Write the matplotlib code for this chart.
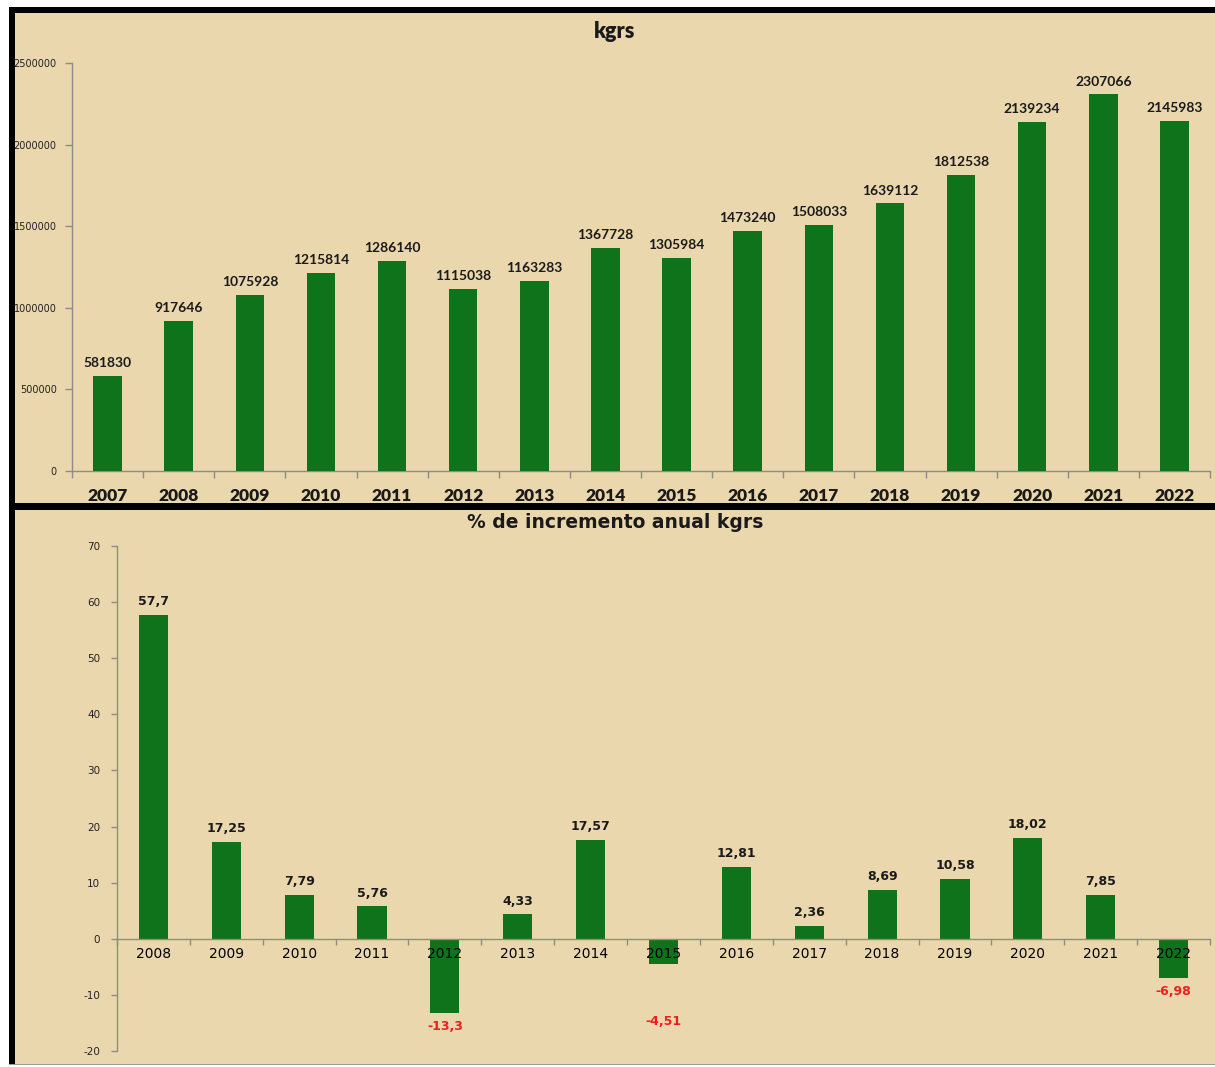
import matplotlib
matplotlib.use("Agg")
import matplotlib.pyplot as plt
from matplotlib.patches import Rectangle
import numpy as np

years_kg = ["2007", "2008", "2009", "2010", "2011", "2012", "2013", "2014",
            "2015", "2016", "2017", "2018", "2019", "2020", "2021", "2022"]
kgrs = [581830, 917646, 1075928, 1215814, 1286140, 1115038, 1163283, 1367728,
        1305984, 1473240, 1508033, 1639112, 1812538, 2139234, 2307066, 2145983]

years_pct = ["2008", "2009", "2010", "2011", "2012", "2013", "2014", "2015",
             "2016", "2017", "2018", "2019", "2020", "2021", "2022"]
pct = [57.7, 17.25, 7.79, 5.76, -13.3, 4.33, 17.57, -4.51, 12.81, 2.36,
       8.69, 10.58, 18.02, 7.85, -6.98]
pct_labels = ["57,7", "17,25", "7,79", "5,76", "-13,3", "4,33", "17,57", "-4,51",
              "12,81", "2,36", "8,69", "10,58", "18,02", "7,85", "-6,98"]

kg_ticks = [0, 500000, 1000000, 1500000, 2000000, 2500000]
pct_ticks = [-20, -10, 0, 10, 20, 30, 40, 50, 60, 70]

BG = "#EAD7AD"
GREEN = "#0E731A"
AXC = "#8c8c8c"
RED = "#E8211E"

W, H = 1215, 1067
fig = plt.figure(figsize=(W / 100, H / 100), dpi=100)
fig.patch.set_facecolor("white")

def fx(x):
    return x / W

def fy(y):
    return 1 - y / H

# tan background
fig.patches.append(Rectangle((fx(9), fy(1064)), fx(W - 9), (1064 - 7) / H,
                             transform=fig.transFigure, facecolor=BG,
                             edgecolor="none", zorder=-10))
# gray bottom line
fig.patches.append(Rectangle((fx(9), fy(1065)), fx(W - 9), 1.5 / H,
                             transform=fig.transFigure, facecolor="#9a9a9a",
                             edgecolor="none", zorder=-9))
# black borders
fig.patches.append(Rectangle((fx(9), fy(1064)), fx(6), (1064 - 7) / H,
                             transform=fig.transFigure, facecolor="black",
                             edgecolor="none", zorder=5))
fig.patches.append(Rectangle((fx(9), fy(12.5)), fx(W - 9), 5.5 / H,
                             transform=fig.transFigure, facecolor="black",
                             edgecolor="none", zorder=5))
fig.patches.append(Rectangle((fx(9), fy(509.5)), fx(W - 9), 6 / H,
                             transform=fig.transFigure, facecolor="black",
                             edgecolor="none", zorder=5))

# ---------- top panel ----------
ax1 = fig.add_axes([fx(72), fy(471), fx(1210 - 72), (471 - 63) / H])
ax1.set_facecolor("none")
x1 = np.arange(len(years_kg))
ax1.bar(x1, kgrs, width=0.4, color=GREEN, zorder=3)
ax1.set_xlim(-0.5, len(years_kg) - 0.5)
ax1.set_ylim(0, 2500000)
ax1.set_yticks(kg_ticks)
ax1.set_yticklabels([str(t) for t in kg_ticks], fontsize=7, family="DejaVu Sans",
                    color="#222222")
ax1.set_xticks(x1)
ax1.set_xticklabels(years_kg, fontsize=12.5, family="Lato", fontweight="heavy",
                    color="#1a1a1a")
ax1.tick_params(axis="x", which="major", length=0, pad=12)
ax1.set_xticks(np.arange(-0.5, len(years_kg)), minor=True)
ax1.tick_params(axis="x", which="minor", length=5, color=AXC, width=1)
ax1.tick_params(axis="y", length=5, color=AXC, width=1, pad=6)
for s in ["top", "right"]:
    ax1.spines[s].set_visible(False)
for s in ["left", "bottom"]:
    ax1.spines[s].set_color(AXC)
    ax1.spines[s].set_linewidth(1)
for xi, v in zip(x1, kgrs):
    ax1.annotate(str(v), (xi, v), xytext=(0, 5), textcoords="offset points",
                 ha="center", va="bottom", fontsize=10, family="Lato",
                 fontweight="bold", color="#1a1a1a")
fig.text(fx(615), fy(32), "kgrs", ha="center", va="center", fontsize=15.5,
         family="Lato", fontweight="heavy", color="#1a1a1a")

# ---------- bottom panel ----------
ax2 = fig.add_axes([fx(117), fy(1051), fx(1210 - 117), (1051 - 546) / H])
ax2.set_facecolor("none")
ax2.set_axisbelow(False)
x2 = np.arange(len(years_pct))
ax2.bar(x2, pct, width=0.4, color=GREEN, zorder=1)
ax2.set_xlim(-0.5, len(years_pct) - 0.5)
ax2.set_ylim(-20, 70)
ax2.set_yticks(pct_ticks)
ax2.set_yticklabels([str(t) for t in pct_ticks], fontsize=7.5,
                    family="DejaVu Sans", color="#222222")
ax2.set_xticks(x2)
ax2.set_xticklabels(years_pct, fontsize=8.5, family="DejaVu Sans",
                    color="#1a1a1a")
ax2.tick_params(axis="x", which="major", length=0, pad=6)
ax2.set_xticks(np.arange(-0.5, len(years_pct)), minor=True)
ax2.tick_params(axis="x", which="minor", length=4, color=AXC, width=1)
ax2.tick_params(axis="y", length=4, color=AXC, width=1, pad=8)
ax2.spines["bottom"].set_position(("data", 0))
for s in ["top", "right"]:
    ax2.spines[s].set_visible(False)
for s in ["left", "bottom"]:
    ax2.spines[s].set_color(AXC)
    ax2.spines[s].set_linewidth(1)
for xi, v, lab in zip(x2, pct, pct_labels):
    if v >= 0:
        ax2.annotate(lab, (xi, v), xytext=(0, 5), textcoords="offset points",
                     ha="center", va="bottom", fontsize=9, family="DejaVu Sans",
                     fontweight="bold", color="#1a1a1a", zorder=4)
    else:
        # Excel pushed a short negative bar's label below the category text
        off = -5 if v < -5 else -37
        ax2.annotate(lab, (xi, v), xytext=(0, off), textcoords="offset points",
                     ha="center", va="top", fontsize=9, family="DejaVu Sans",
                     fontweight="bold", color=RED, zorder=4)
fig.text(fx(615), fy(522), "% de incremento anual kgrs", ha="center",
         va="center", fontsize=13.5, family="DejaVu Sans", fontweight="bold",
         color="#1a1a1a")

fig.savefig("out.png", dpi=100, facecolor=fig.get_facecolor())
